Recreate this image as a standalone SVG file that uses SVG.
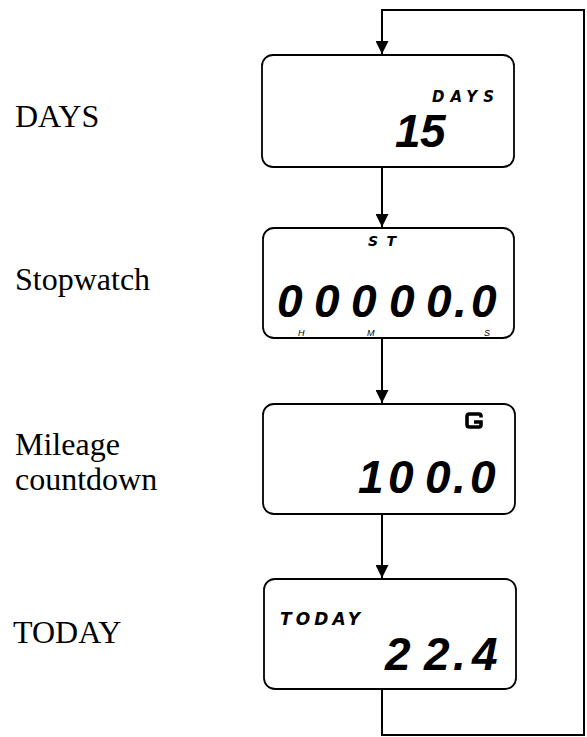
<svg xmlns="http://www.w3.org/2000/svg" width="587" height="737" viewBox="0 0 587 737">
<defs>
<style>
.box{fill:#fff;stroke:#000;stroke-width:1.8}
.conn{fill:none;stroke:#000;stroke-width:2}
.lbl{font-family:"Liberation Serif","Times New Roman",serif;font-size:32px;fill:#000}
.seg{font-family:"Liberation Sans",Arial,sans-serif;font-size:46px;font-style:italic;font-weight:bold;fill:#000}
.tag{font-family:"DejaVu Sans",sans-serif;font-weight:bold;font-style:italic;fill:#000}
.unit{font-family:"Liberation Sans",Arial,sans-serif;font-style:italic;font-size:9px;fill:#000}
</style>
<marker id="ah" markerWidth="14" markerHeight="13" refX="14" refY="7" orient="auto" markerUnits="userSpaceOnUse" viewBox="0 0 14 14">
<path d="M0,0 L14,7 L0,14 Z" fill="#000"/>
</marker>
</defs>
<rect width="587" height="737" fill="#fff"/>

<g id="connectors">
<path class="conn" d="M382,689 V735 H584 V10 H382 V54" marker-end="url(#ah)"/>
<path class="conn" d="M382,167 V227" marker-end="url(#ah)"/>
<path class="conn" d="M382,338 V403" marker-end="url(#ah)"/>
<path class="conn" d="M382,514 V578" marker-end="url(#ah)"/>
</g>

<g id="days">
<text class="lbl" x="15" y="127">DAYS</text>
<rect class="box" x="262" y="55" width="252" height="112" rx="11"/>
<text class="tag" x="432" y="102" font-size="15" textLength="62" lengthAdjust="spacing">DAYS</text>
<text class="seg"><tspan x="395" y="147">1</tspan><tspan x="420" y="147">5</tspan></text>
</g>

<g id="stopwatch">
<text class="lbl" x="15" y="290">Stopwatch</text>
<rect class="box" x="263" y="228" width="251" height="110" rx="11"/>
<text class="tag" x="368" y="246" font-size="14" textLength="28" lengthAdjust="spacing">ST</text>
<text class="seg" font-size="44"><tspan x="277" y="317">0</tspan><tspan x="314" y="317">0</tspan><tspan x="351" y="317">0</tspan><tspan x="389" y="317">0</tspan><tspan x="426" y="317">0</tspan><tspan x="454" y="317">.</tspan><tspan x="471" y="317">0</tspan></text>
<text class="unit" x="298" y="336">H</text>
<text class="unit" x="367" y="336">M</text>
<text class="unit" x="484" y="336" font-style="normal" font-size="10">S</text>
</g>

<g id="mileage">
<text class="lbl" x="15" y="455">Mileage</text>
<text class="lbl" x="15" y="490">countdown</text>
<rect class="box" x="263" y="404" width="252" height="110" rx="11"/>
<path d="M481,417.5 V416 Q481,414 479,414 H469.5 Q467,414 467,416.5 V424.5 Q467,427 469.5,427 H479 Q481,427 481,425 V422 H474" fill="none" stroke="#000" stroke-width="3.6"/>
<text class="seg"><tspan x="358" y="493">1</tspan><tspan x="388" y="493">0</tspan><tspan x="425" y="493">0</tspan><tspan x="453" y="493">.</tspan><tspan x="470" y="493">0</tspan></text>
</g>

<g id="today">
<text class="lbl" x="13" y="643">TODAY</text>
<rect class="box" x="264" y="579" width="252" height="110" rx="11"/>
<text class="tag" x="280" y="625" font-size="17" textLength="80" lengthAdjust="spacing">TODAY</text>
<text class="seg"><tspan x="385" y="670">2</tspan><tspan x="424" y="670">2</tspan><tspan x="453" y="670">.</tspan><tspan x="472" y="670">4</tspan></text>
</g>
</svg>
